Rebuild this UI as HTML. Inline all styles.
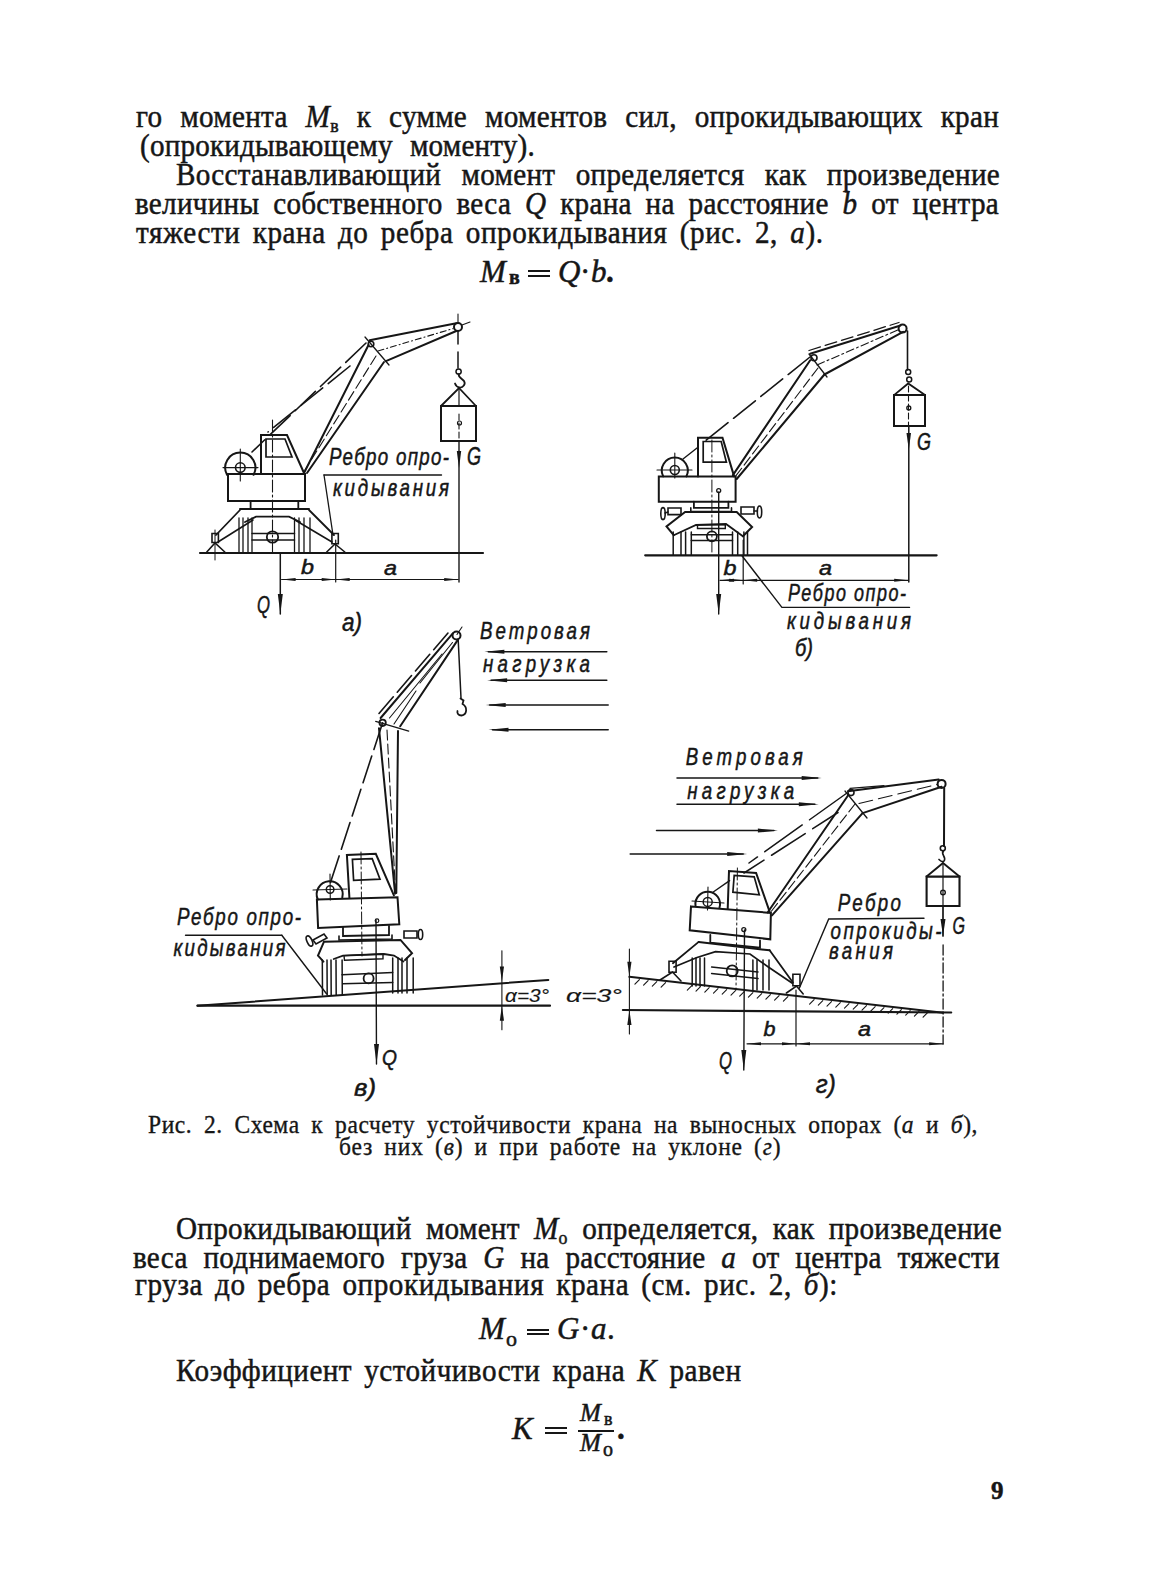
<!DOCTYPE html>
<html><head><meta charset="utf-8">
<style>
html,body{margin:0;padding:0;background:#fff;}
body{width:1163px;height:1588px;position:relative;overflow:hidden;font-family:"Liberation Serif",serif;color:#161616;}
.t{position:absolute;transform:scaleX(0.94);transform-origin:0 0;font-size:31px;line-height:31px;white-space:nowrap;text-align:justify;text-align-last:justify;-webkit-text-stroke:0.5px #161616;}
.n{text-align:left;text-align-last:left;width:auto;}
.f{position:absolute;font-size:31px;line-height:31px;white-space:nowrap;-webkit-text-stroke:0.5px #161616;}
.cap{position:absolute;transform:scaleX(0.94);transform-origin:0 0;font-size:25px;line-height:25px;white-space:nowrap;-webkit-text-stroke:0.35px #161616;}
.sb{font-size:19px;position:relative;top:5px;}
svg{position:absolute;left:0;top:0;}
.bar{position:absolute;height:2px;background:#161616;}
</style></head><body>
<div class="t" style="top:101px;left:136px;width:918.1px;letter-spacing:0.3px">го момента <i>M</i><span class="sb">в</span> к сумме моментов сил, опрокидывающих кран</div>
<div class="t" style="top:130px;left:140px;width:420.2px;letter-spacing:0.2px">(опрокидывающему моменту).</div>
<div class="t" style="top:159px;left:176px;width:876.6px;letter-spacing:0.3px">Восстанавливающий момент определяется как произведение</div>
<div class="t" style="top:188px;left:135px;width:919.1px;letter-spacing:0.3px">величины собственного веса <i>Q</i> крана на расстояние <i>b</i> от центра</div>
<div class="t" style="top:217px;left:136px;width:731.4px;letter-spacing:0.6px">тяжести крана до ребра опрокидывания (рис. 2, <i>а</i>).</div>
<div class="f" style="top:256px;left:480px"><i>M</i></div><div class="f" style="top:262px;left:509px;font-size:20px;font-weight:bold">в</div><div class="bar" style="left:528px;top:270px;width:22px"></div><div class="bar" style="left:528px;top:275px;width:22px"></div><div class="f" style="top:256px;left:558px"><i>Q</i></div><div class="f" style="top:256px;left:580px">·</div><div class="f" style="top:256px;left:591px"><i>b</i></div><div class="f" style="top:256px;left:606px;font-weight:bold">.</div>

<div class="cap" style="top:1112px;left:147.5px;width:883.0px;text-align:justify;text-align-last:justify;letter-spacing:0.6px">Рис. 2. Схема к расчету устойчивости крана на выносных опорах (<i>а</i> и <i>б</i>),</div>
<div class="cap" style="top:1134px;left:339px;width:470.7px;text-align:justify;text-align-last:justify;letter-spacing:0.9px">без них (<i>в</i>) и при работе на уклоне (<i>г</i>)</div>

<div class="t" style="top:1213px;left:176px;width:878.7px;letter-spacing:0.3px">Опрокидывающий момент <i>M</i><span class="sb">о</span> определяется, как произведение</div>
<div class="t" style="top:1242px;left:133px;width:922.3px;letter-spacing:0.3px">веса поднимаемого груза <i>G</i> на расстояние <i>а</i> от центра тяжести</div>
<div class="t" style="top:1269px;left:135px;width:747.9px;letter-spacing:0.6px">груза до ребра опрокидывания крана (см. рис. 2, <i>б</i>):</div>
<div class="f" style="top:1313px;left:479px"><i>M</i></div><div class="f" style="top:1323px;left:506px;font-size:22px">о</div><div class="bar" style="left:527px;top:1329px;width:22px"></div><div class="bar" style="left:527px;top:1333px;width:22px"></div><div class="f" style="top:1313px;left:557px"><i>G</i></div><div class="f" style="top:1313px;left:580px">·</div><div class="f" style="top:1313px;left:591px"><i>a</i></div><div class="f" style="top:1313px;left:607px">.</div>
<div class="t" style="top:1355px;left:175.5px;width:601.6px;letter-spacing:0.5px">Коэффициент устойчивости крана <i>K</i> равен</div>
<div class="f" style="top:1413px;left:512px"><i>K</i></div><div class="bar" style="left:545px;top:1427px;width:22px"></div><div class="bar" style="left:545px;top:1432px;width:22px"></div><div class="f" style="top:1400px;left:580px;font-size:25px;line-height:25px"><i>M</i></div><div class="f" style="top:1410px;left:604px;font-size:18px;line-height:18px">в</div><div class="bar" style="left:578px;top:1429.5px;width:36px"></div><div class="f" style="top:1430px;left:580px;font-size:25px;line-height:25px"><i>M</i></div><div class="f" style="top:1439px;left:603px;font-size:20px;line-height:20px">о</div><div class="f" style="top:1413px;left:617px;font-weight:bold">.</div>
<div class="f" style="top:1478px;left:991px;font-weight:bold;font-size:25px;line-height:25px">9</div>
<svg width="1163" height="1588" viewBox="0 0 1163 1588"><g stroke="#161616" stroke-linecap="round" fill="none"><line x1="369.6" y1="340.2" x2="456.3" y2="323.2" stroke-width="2"/>
<line x1="385.9" y1="361.1" x2="456.3" y2="331.0" stroke-width="2"/>
<line x1="378.0" y1="351.0" x2="453.0" y2="328.6" stroke-width="1.1" stroke-dasharray="6 3 1 3"/>
<line x1="365.0" y1="337.0" x2="389.0" y2="365.0" stroke-width="1.3"/>
<circle cx="458.0" cy="327.0" r="4.0" stroke-width="2" fill="none"/>
<line x1="458.0" y1="314.0" x2="458.0" y2="323.0" stroke-width="1.1"/>
<line x1="462.0" y1="325.0" x2="470.0" y2="322.0" stroke-width="1.1"/>
<circle cx="371.0" cy="344.0" r="2.8" stroke-width="1.6" fill="none"/>
<line x1="368.5" y1="345.0" x2="304.0" y2="473.0" stroke-width="2"/>
<line x1="384.0" y1="362.0" x2="307.0" y2="473.0" stroke-width="2"/>
<line x1="376.0" y1="356.0" x2="305.0" y2="470.0" stroke-width="1.1" stroke-dasharray="10 4"/>
<line x1="366.0" y1="343.0" x2="252.0" y2="452.0" stroke-width="1.6" stroke-dasharray="28 7"/>
<line x1="350.0" y1="366.0" x2="268.0" y2="432.0" stroke-width="1.6" stroke-dasharray="28 7"/>
<line x1="458.0" y1="331.0" x2="458.0" y2="344.0" stroke-width="1.5"/>
<line x1="458.0" y1="352.0" x2="458.0" y2="368.0" stroke-width="1.5"/>
<circle cx="458.6" cy="371.5" r="2.6" stroke-width="1.5" fill="none"/>
<path d="M458.8,374.2 C458,377 461,378 464,381 C466,384 463,388 459.5,387.5 C457,387 455.5,385 455,383.5" stroke-width="1.8" fill="none"/>
<polyline points="441.0,406.0 459.0,388.0 476.0,406.0" stroke-width="1.8" fill="none"/>
<polygon points="441.0,406.0 476.0,406.0 476.0,441.0 441.0,441.0" stroke-width="2" fill="none"/>
<circle cx="459.5" cy="423.0" r="2.0" stroke-width="1.2" fill="none"/>
<line x1="459.0" y1="388.0" x2="459.0" y2="406.0" stroke-width="1.2"/>
<line x1="459.0" y1="414.0" x2="459.0" y2="441.0" stroke-width="1.1" stroke-dasharray="6 3"/>
<line x1="459.0" y1="441.0" x2="459.0" y2="582.0" stroke-width="1.4"/>
<polygon points="459.0,468.0 456.8,451.0 461.2,451.0" fill="#161616" stroke="none"/>
<text x="467.0" y="464.5" font-family="Liberation Sans" font-size="25" font-style="italic" fill="#161616" stroke="#161616" stroke-width="0.5" textLength="14" lengthAdjust="spacingAndGlyphs" text-anchor="start" >G</text>
<polyline points="261.0,473.0 261.0,435.0 287.0,435.0 304.0,473.0" stroke-width="2" fill="none"/>
<polygon points="266.0,457.0 266.0,439.0 285.0,439.0 292.0,457.0" stroke-width="1.7" fill="none"/>
<line x1="272.5" y1="420.0" x2="272.5" y2="553.0" stroke-width="1.1" stroke-dasharray="12 3 2 3"/>
<path d="M227,474.8 A15.1,15.1 0 1 1 253.6,474.8" stroke-width="2" fill="none"/>
<circle cx="240.3" cy="467.6" r="4.8" stroke-width="1.6" fill="none"/>
<line x1="223.0" y1="467.6" x2="258.0" y2="467.6" stroke-width="1.1"/>
<line x1="240.3" y1="449.0" x2="240.3" y2="481.0" stroke-width="1.1"/>
<polygon points="228.0,474.0 305.0,474.0 305.0,501.0 228.0,501.0" stroke-width="2" fill="none"/>
<polyline points="250.6,501.0 250.6,509.0 298.3,509.0 298.3,501.0" stroke-width="1.8" fill="none"/>
<line x1="240.0" y1="509.0" x2="309.0" y2="509.0" stroke-width="2"/>
<line x1="240.0" y1="510.0" x2="216.0" y2="535.0" stroke-width="1.8"/>
<line x1="253.0" y1="520.0" x2="218.0" y2="542.0" stroke-width="1.6"/>
<line x1="309.0" y1="510.0" x2="334.0" y2="535.0" stroke-width="1.8"/>
<line x1="295.0" y1="520.0" x2="332.0" y2="542.0" stroke-width="1.6"/>
<polyline points="245.0,522.0 256.0,516.7 289.0,516.7 300.0,522.0" stroke-width="1.8" fill="none"/>
<line x1="239.0" y1="518.0" x2="239.0" y2="553.0" stroke-width="1.3"/>
<line x1="243.0" y1="518.0" x2="243.0" y2="553.0" stroke-width="1.3"/>
<line x1="248.0" y1="518.0" x2="248.0" y2="553.0" stroke-width="1.3"/>
<line x1="252.0" y1="518.0" x2="252.0" y2="553.0" stroke-width="1.3"/>
<line x1="294.5" y1="518.0" x2="294.5" y2="553.0" stroke-width="1.3"/>
<line x1="299.0" y1="518.0" x2="299.0" y2="553.0" stroke-width="1.3"/>
<line x1="304.0" y1="518.0" x2="304.0" y2="553.0" stroke-width="1.3"/>
<line x1="310.0" y1="518.0" x2="310.0" y2="553.0" stroke-width="1.3"/>
<line x1="252.0" y1="533.5" x2="294.5" y2="533.5" stroke-width="1.5"/>
<line x1="252.0" y1="540.0" x2="294.5" y2="540.0" stroke-width="1.5"/>
<circle cx="272.5" cy="537.0" r="5.7" stroke-width="1.8" fill="none"/>
<polygon points="212.0,542.5 212.0,533.5 218.4,533.5 218.4,542.5" stroke-width="1.6" fill="none"/>
<polyline points="206.8,552.0 215.0,543.0 224.8,552.0" stroke-width="1.6" fill="none"/>
<polygon points="331.9,543.8 331.9,533.5 338.3,533.5 338.3,543.8" stroke-width="1.6" fill="none"/>
<polyline points="326.7,552.0 335.0,544.0 344.8,552.0" stroke-width="1.6" fill="none"/>
<line x1="215.0" y1="530.0" x2="215.0" y2="560.0" stroke-width="1.0"/>
<line x1="200.0" y1="553.0" x2="483.0" y2="553.0" stroke-width="2.2"/>
<line x1="280.3" y1="554.0" x2="280.3" y2="614.0" stroke-width="1.5"/>
<polygon points="280.3,614.0 277.8,594.0 282.8,594.0" fill="#161616" stroke="none"/>
<text x="257.0" y="612.5" font-family="Liberation Sans" font-size="24" font-style="italic" fill="#161616" stroke="#161616" stroke-width="0.5" textLength="13" lengthAdjust="spacingAndGlyphs" text-anchor="start" >Q</text>
<line x1="281.6" y1="579.5" x2="458.2" y2="579.5" stroke-width="1.2"/>
<polygon points="281.6,579.5 295.6,578.0 295.6,581.0" fill="#161616" stroke="none"/>
<polygon points="335.7,579.5 321.7,581.0 321.7,578.0" fill="#161616" stroke="none"/>
<polygon points="335.7,579.5 349.7,578.0 349.7,581.0" fill="#161616" stroke="none"/>
<polygon points="458.2,579.5 444.2,581.0 444.2,578.0" fill="#161616" stroke="none"/>
<line x1="335.7" y1="540.0" x2="335.7" y2="582.0" stroke-width="1.2"/>
<text x="301.0" y="573.5" font-family="Liberation Sans" font-size="21" font-style="italic" fill="#161616" stroke="#161616" stroke-width="0.5" textLength="13" lengthAdjust="spacingAndGlyphs" text-anchor="start" >b</text>
<text x="384.0" y="574.8" font-family="Liberation Sans" font-size="21" font-style="italic" fill="#161616" stroke="#161616" stroke-width="0.5" textLength="13" lengthAdjust="spacingAndGlyphs" text-anchor="start" >a</text>
<text x="342.0" y="631.0" font-family="Liberation Sans" font-size="25" font-style="italic" fill="#161616" stroke="#161616" stroke-width="0.5" textLength="20" lengthAdjust="spacingAndGlyphs" text-anchor="start" >а)</text>
<g transform="translate(329.0,465.0) scale(0.78,1)"><text x="0" y="0" font-family="Liberation Sans" font-size="24" font-style="italic" fill="#161616" stroke="#161616" stroke-width="0.5" textLength="153.8" lengthAdjust="spacing" text-anchor="start" >Ребро опро-</text></g>
<g transform="translate(333.0,496.0) scale(0.78,1)"><text x="0" y="0" font-family="Liberation Sans" font-size="24" font-style="italic" fill="#161616" stroke="#161616" stroke-width="0.5" textLength="148.7" lengthAdjust="spacing" text-anchor="start" >кидывания</text></g>
<line x1="324.0" y1="475.0" x2="441.5" y2="475.0" stroke-width="1.4"/>
<line x1="324.0" y1="475.0" x2="333.0" y2="535.0" stroke-width="1.3"/>
<line x1="810.2" y1="353.8" x2="900.5" y2="325.5" stroke-width="2"/>
<line x1="809.0" y1="350.5" x2="899.0" y2="322.5" stroke-width="1.3" stroke-dasharray="12 5"/>
<line x1="824.4" y1="374.5" x2="903.1" y2="331.9" stroke-width="2"/>
<line x1="817.0" y1="365.0" x2="900.0" y2="329.0" stroke-width="1.1" stroke-dasharray="8 3 2 3"/>
<line x1="809.0" y1="354.0" x2="827.0" y2="377.0" stroke-width="1.3"/>
<circle cx="902.6" cy="328.6" r="4.0" stroke-width="2" fill="none"/>
<circle cx="814.0" cy="357.7" r="3.0" stroke-width="1.6" fill="none"/>
<line x1="810.2" y1="360.3" x2="732.9" y2="475.1" stroke-width="2"/>
<line x1="824.4" y1="374.5" x2="736.7" y2="479.0" stroke-width="2"/>
<line x1="818.0" y1="368.0" x2="735.0" y2="477.0" stroke-width="1.1" stroke-dasharray="10 4"/>
<line x1="810.0" y1="357.0" x2="704.5" y2="441.5" stroke-width="1.6" stroke-dasharray="28 7"/>
<line x1="697.0" y1="448.0" x2="683.0" y2="459.0" stroke-width="1.4"/>
<polyline points="698.0,476.4 698.0,437.7 722.5,437.7 734.1,476.4" stroke-width="2" fill="none"/>
<polygon points="703.2,462.2 703.2,441.5 721.2,441.5 726.4,462.2" stroke-width="1.7" fill="none"/>
<path d="M663.2,476.4 A13,13 0 1 1 686.4,476.4" stroke-width="2" fill="none"/>
<circle cx="674.8" cy="470.0" r="4.5" stroke-width="1.6" fill="none"/>
<line x1="657.0" y1="470.0" x2="692.0" y2="470.0" stroke-width="1.1"/>
<line x1="674.8" y1="453.0" x2="674.8" y2="478.0" stroke-width="1.1"/>
<polygon points="658.8,476.4 735.6,476.4 735.6,501.7 658.8,501.7" stroke-width="2" fill="none"/>
<circle cx="718.7" cy="490.6" r="2.0" stroke-width="1.3" fill="none"/>
<line x1="711.9" y1="440.0" x2="711.9" y2="555.0" stroke-width="1.0" stroke-dasharray="12 3 2 3"/>
<polyline points="693.9,501.7 693.9,507.9 728.4,507.9 728.4,501.7" stroke-width="1.8" fill="none"/>
<polyline points="690.8,507.9 690.8,511.5 731.5,511.5 731.5,507.9" stroke-width="1.6" fill="none"/>
<polyline points="673.7,535.2 666.5,526.5 685.1,512.0 736.7,512.0 752.1,527.0 742.9,536.3" stroke-width="2" fill="none"/>
<polyline points="673.7,535.2 696.0,525.0 726.0,524.0 742.9,536.3" stroke-width="1.8" fill="none"/>
<polygon points="697.5,524.9 725.3,524.9 725.3,528.5 697.5,528.5" stroke-width="1.4" fill="none"/>
<line x1="673.2" y1="532.0" x2="673.2" y2="555.0" stroke-width="1.5"/>
<line x1="681.0" y1="532.0" x2="681.0" y2="555.0" stroke-width="1.5"/>
<line x1="685.6" y1="532.0" x2="685.6" y2="555.0" stroke-width="1.5"/>
<line x1="691.3" y1="532.0" x2="691.3" y2="555.0" stroke-width="1.5"/>
<line x1="732.5" y1="532.0" x2="732.5" y2="555.0" stroke-width="1.5"/>
<line x1="737.7" y1="532.0" x2="737.7" y2="555.0" stroke-width="1.5"/>
<line x1="743.9" y1="532.0" x2="743.9" y2="555.0" stroke-width="1.5"/>
<line x1="747.5" y1="532.0" x2="747.5" y2="555.0" stroke-width="1.5"/>
<line x1="691.3" y1="534.7" x2="732.5" y2="534.7" stroke-width="1.5"/>
<line x1="691.3" y1="540.4" x2="732.5" y2="540.4" stroke-width="1.5"/>
<circle cx="711.9" cy="536.3" r="5.0" stroke-width="1.8" fill="none"/>
<polygon points="668.0,508.0 681.0,508.0 681.0,514.6 668.0,514.6" stroke-width="1.6" fill="none"/>
<ellipse cx="663" cy="513.6" rx="2.2" ry="6" stroke-width="1.6" fill="none"/>
<line x1="665.0" y1="513.0" x2="668.0" y2="512.0" stroke-width="1.4"/>
<polygon points="741.0,507.0 754.0,507.0 754.0,514.0 741.0,514.0" stroke-width="1.6" fill="none"/>
<ellipse cx="759.5" cy="512" rx="2.2" ry="6" stroke-width="1.6" fill="none"/>
<line x1="754.0" y1="511.0" x2="757.5" y2="511.0" stroke-width="1.4"/>
<line x1="645.2" y1="555.3" x2="936.6" y2="555.3" stroke-width="2.2"/>
<line x1="718.7" y1="492.0" x2="718.7" y2="614.0" stroke-width="1.4"/>
<polygon points="718.7,614.0 716.2,594.0 721.2,594.0" fill="#161616" stroke="none"/>
<line x1="907.5" y1="331.0" x2="907.5" y2="370.0" stroke-width="1.6"/>
<circle cx="908.2" cy="371.9" r="2.5" stroke-width="1.5" fill="none"/>
<circle cx="909.2" cy="379.4" r="2.5" stroke-width="1.5" fill="none"/>
<polyline points="894.0,395.1 908.2,383.5 925.0,395.1" stroke-width="1.8" fill="none"/>
<polygon points="894.0,395.1 925.0,395.1 925.0,426.1 894.0,426.1" stroke-width="2" fill="none"/>
<circle cx="908.8" cy="408.0" r="2.0" stroke-width="1.3" fill="none"/>
<line x1="908.5" y1="386.0" x2="908.5" y2="426.0" stroke-width="1.1" stroke-dasharray="6 3"/>
<line x1="908.8" y1="426.0" x2="908.8" y2="582.0" stroke-width="1.5"/>
<polygon points="908.8,450.0 906.5,433.0 911.0,433.0" fill="#161616" stroke="none"/>
<text x="917.0" y="449.5" font-family="Liberation Sans" font-size="24" font-style="italic" fill="#161616" stroke="#161616" stroke-width="0.5" textLength="14" lengthAdjust="spacingAndGlyphs" text-anchor="start" >G</text>
<line x1="720.0" y1="580.3" x2="908.2" y2="580.3" stroke-width="1.2"/>
<polygon points="720.0,580.3 734.0,578.8 734.0,581.8" fill="#161616" stroke="none"/>
<polygon points="743.2,580.3 729.2,581.8 729.2,578.8" fill="#161616" stroke="none"/>
<polygon points="743.2,580.3 757.2,578.8 757.2,581.8" fill="#161616" stroke="none"/>
<polygon points="908.2,580.3 894.2,581.8 894.2,578.8" fill="#161616" stroke="none"/>
<line x1="743.2" y1="540.0" x2="743.2" y2="584.0" stroke-width="1.2"/>
<text x="723.5" y="575.0" font-family="Liberation Sans" font-size="21" font-style="italic" fill="#161616" stroke="#161616" stroke-width="0.5" textLength="13" lengthAdjust="spacingAndGlyphs" text-anchor="start" >b</text>
<text x="819.0" y="575.0" font-family="Liberation Sans" font-size="21" font-style="italic" fill="#161616" stroke="#161616" stroke-width="0.5" textLength="13" lengthAdjust="spacingAndGlyphs" text-anchor="start" >a</text>
<polyline points="742.0,555.8 781.9,607.4 909.5,607.4" stroke-width="1.4" fill="none"/>
<g transform="translate(788.0,601.0) scale(0.78,1)"><text x="0" y="0" font-family="Liberation Sans" font-size="23" font-style="italic" fill="#161616" stroke="#161616" stroke-width="0.5" textLength="151.3" lengthAdjust="spacing" text-anchor="start" >Ребро опро-</text></g>
<g transform="translate(787.0,629.3) scale(0.78,1)"><text x="0" y="0" font-family="Liberation Sans" font-size="24" font-style="italic" fill="#161616" stroke="#161616" stroke-width="0.5" textLength="159.0" lengthAdjust="spacing" text-anchor="start" >кидывания</text></g>
<text x="795.0" y="655.5" font-family="Liberation Sans" font-size="24" font-style="italic" fill="#161616" stroke="#161616" stroke-width="0.5" textLength="18" lengthAdjust="spacingAndGlyphs" text-anchor="start" >б)</text>
<line x1="380.6" y1="718.0" x2="452.8" y2="633.4" stroke-width="2"/>
<line x1="400.2" y1="726.3" x2="458.0" y2="639.6" stroke-width="2"/>
<line x1="389.5" y1="718.0" x2="442.0" y2="654.0" stroke-width="1.1"/>
<line x1="394.0" y1="724.0" x2="416.0" y2="691.0" stroke-width="1.1"/>
<line x1="420.0" y1="683.0" x2="452.5" y2="642.5" stroke-width="1.1"/>
<line x1="375.7" y1="721.4" x2="408.7" y2="731.1" stroke-width="1.3"/>
<circle cx="456.5" cy="635.5" r="4.0" stroke-width="2" fill="none"/>
<circle cx="382.6" cy="722.8" r="3.2" stroke-width="1.8" fill="none"/>
<line x1="457.0" y1="634.5" x2="462.0" y2="627.0" stroke-width="1.1"/>
<line x1="379.0" y1="713.5" x2="451.0" y2="629.5" stroke-width="1.6" stroke-dasharray="22 6"/>
<line x1="379.0" y1="728.3" x2="395.1" y2="893.6" stroke-width="2"/>
<line x1="398.0" y1="731.1" x2="396.3" y2="893.0" stroke-width="2"/>
<line x1="387.0" y1="730.0" x2="395.5" y2="892.0" stroke-width="1.1" stroke-dasharray="10 4"/>
<line x1="382.6" y1="722.8" x2="329.0" y2="887.0" stroke-width="1.6" stroke-dasharray="28 7"/>
<line x1="458.2" y1="640.0" x2="461.0" y2="698.0" stroke-width="1.5"/>
<path d="M460.5,698.5 L463.5,700.5 L462.5,704 M462.5,704 C468,707 467,715 461.5,715.5 C458,715.5 457,713 457.5,711" stroke-width="1.8" fill="none"/>
<line x1="488.4" y1="651.8" x2="606.8" y2="651.8" stroke-width="1.5"/>
<polygon points="484.4,651.8 504.4,649.8 504.4,653.8" fill="#161616" stroke="none"/>
<line x1="491.1" y1="680.2" x2="606.8" y2="680.2" stroke-width="1.5"/>
<polygon points="487.1,680.2 507.1,678.2 507.1,682.2" fill="#161616" stroke="none"/>
<line x1="489.7" y1="704.9" x2="608.2" y2="704.9" stroke-width="1.5"/>
<polygon points="485.7,704.9 505.7,702.9 505.7,706.9" fill="#161616" stroke="none"/>
<line x1="492.5" y1="729.7" x2="608.2" y2="729.7" stroke-width="1.5"/>
<polygon points="488.5,729.7 508.5,727.7 508.5,731.7" fill="#161616" stroke="none"/>
<g transform="translate(480.0,638.9) scale(0.78,1)"><text x="0" y="0" font-family="Liberation Sans" font-size="24" font-style="italic" fill="#161616" stroke="#161616" stroke-width="0.5" textLength="141.0" lengthAdjust="spacing" text-anchor="start" >Ветровая</text></g>
<g transform="translate(483.0,672.0) scale(0.78,1)"><text x="0" y="0" font-family="Liberation Sans" font-size="24" font-style="italic" fill="#161616" stroke="#161616" stroke-width="0.5" textLength="137.2" lengthAdjust="spacing" text-anchor="start" >нагрузка</text></g>
<polyline points="349.4,897.8 346.9,855.0 375.8,853.8 393.9,895.4" stroke-width="2" fill="none"/>
<polygon points="353.6,880.3 352.4,859.3 372.2,858.7 380.0,879.1" stroke-width="1.7" fill="none"/>
<line x1="361.0" y1="852.0" x2="362.0" y2="956.0" stroke-width="1.0" stroke-dasharray="12 3 2 3"/>
<path d="M317.8,899.5 A13,13 0 1 1 342.3,897.5" stroke-width="2" fill="none"/>
<circle cx="330.1" cy="889.5" r="3.8" stroke-width="1.5" fill="none"/>
<line x1="313.0" y1="890.0" x2="347.0" y2="889.0" stroke-width="1.1"/>
<line x1="330.0" y1="874.0" x2="330.3" y2="900.0" stroke-width="1.1"/>
<polygon points="316.9,899.6 397.5,897.2 399.3,924.3 318.1,927.9" stroke-width="2" fill="none"/>
<circle cx="377.0" cy="920.7" r="1.8" stroke-width="1.2" fill="none"/>
<polyline points="343.0,927.0 343.0,936.0 389.0,935.0 389.0,926.0" stroke-width="1.8" fill="none"/>
<polyline points="339.0,936.0 339.0,940.0 392.0,939.0 392.0,935.0" stroke-width="1.6" fill="none"/>
<polyline points="323.5,961.6 318.0,955.6 324.0,941.7 400.5,939.9 412.0,953.2 405.0,960.0" stroke-width="2" fill="none"/>
<polyline points="333.7,959.0 343.0,955.6 384.0,954.0 394.0,955.6 403.5,961.6" stroke-width="1.8" fill="none"/>
<polygon points="344.0,955.6 383.0,954.0 383.0,958.8 344.5,960.2" stroke-width="1.4" fill="none"/>
<line x1="322.3" y1="960.0" x2="322.5" y2="995.0" stroke-width="1.5"/>
<line x1="327.0" y1="960.0" x2="327.2" y2="995.0" stroke-width="1.5"/>
<line x1="331.0" y1="960.0" x2="331.2" y2="995.0" stroke-width="1.5"/>
<line x1="336.0" y1="960.0" x2="336.2" y2="995.0" stroke-width="1.5"/>
<line x1="342.1" y1="960.0" x2="342.3" y2="995.0" stroke-width="1.5"/>
<line x1="392.7" y1="958.0" x2="392.7" y2="993.0" stroke-width="1.5"/>
<line x1="398.0" y1="958.0" x2="398.0" y2="993.0" stroke-width="1.5"/>
<line x1="402.0" y1="958.0" x2="402.0" y2="993.0" stroke-width="1.5"/>
<line x1="407.0" y1="958.0" x2="407.0" y2="993.0" stroke-width="1.5"/>
<line x1="413.2" y1="958.0" x2="413.2" y2="993.0" stroke-width="1.5"/>
<line x1="342.0" y1="974.8" x2="392.7" y2="972.4" stroke-width="1.5"/>
<line x1="342.6" y1="983.8" x2="392.7" y2="982.6" stroke-width="1.5"/>
<circle cx="368.6" cy="978.4" r="5.0" stroke-width="1.8" fill="none"/>
<polygon points="313.0,940.0 324.0,934.0 327.0,938.0 316.0,944.0" stroke-width="1.6" fill="none"/>
<ellipse cx="309.5" cy="941" rx="2.5" ry="5.5" transform="rotate(-25 309.5 941)" stroke-width="1.6" fill="none"/>
<polygon points="404.0,931.0 417.0,931.0 417.0,938.0 404.0,938.0" stroke-width="1.6" fill="none"/>
<ellipse cx="420.5" cy="934.5" rx="2.2" ry="5" stroke-width="1.6" fill="none"/>
<line x1="197.5" y1="1005.7" x2="548.3" y2="979.9" stroke-width="2"/>
<line x1="197.5" y1="1005.7" x2="550.0" y2="1005.7" stroke-width="2.2"/>
<line x1="376.0" y1="920.0" x2="376.5" y2="1064.0" stroke-width="1.4"/>
<polygon points="376.5,1064.0 374.0,1044.0 379.0,1044.0" fill="#161616" stroke="none"/>
<text x="382.0" y="1064.5" font-family="Liberation Sans" font-size="22" font-style="italic" fill="#161616" stroke="#161616" stroke-width="0.5" textLength="15" lengthAdjust="spacingAndGlyphs" text-anchor="start" >Q</text>
<text x="354.0" y="1095.5" font-family="Liberation Sans" font-size="24" font-style="italic" fill="#161616" stroke="#161616" stroke-width="0.5" textLength="22" lengthAdjust="spacingAndGlyphs" text-anchor="start" >в)</text>
<line x1="501.9" y1="950.7" x2="501.9" y2="1029.8" stroke-width="1.1"/>
<polygon points="501.9,981.5 499.8,966.5 504.0,966.5" fill="#161616" stroke="none"/>
<polygon points="501.9,1005.7 504.0,1020.7 499.8,1020.7" fill="#161616" stroke="none"/>
<text x="505.0" y="1002.3" font-family="Liberation Sans" font-size="19" font-style="italic" fill="#161616" stroke="#161616" stroke-width="0.15" textLength="44" lengthAdjust="spacingAndGlyphs" text-anchor="start" >α=3°</text>
<text x="566.0" y="1002.3" font-family="Liberation Sans" font-size="19" font-style="italic" fill="#161616" stroke="#161616" stroke-width="0.15" textLength="56" lengthAdjust="spacingAndGlyphs" text-anchor="start" >α=3°</text>
<g transform="translate(177.0,924.9) scale(0.78,1)"><text x="0" y="0" font-family="Liberation Sans" font-size="24" font-style="italic" fill="#161616" stroke="#161616" stroke-width="0.5" textLength="159.0" lengthAdjust="spacing" text-anchor="start" >Ребро опро-</text></g>
<g transform="translate(173.4,955.9) scale(0.78,1)"><text x="0" y="0" font-family="Liberation Sans" font-size="24" font-style="italic" fill="#161616" stroke="#161616" stroke-width="0.5" textLength="143.6" lengthAdjust="spacing" text-anchor="start" >кидывания</text></g>
<line x1="185.5" y1="935.2" x2="281.8" y2="935.2" stroke-width="1.4"/>
<line x1="281.8" y1="935.2" x2="326.5" y2="993.7" stroke-width="1.4"/>
<line x1="677.0" y1="778.0" x2="817.7" y2="778.0" stroke-width="1.5"/>
<polygon points="821.7,778.0 801.7,780.0 801.7,776.0" fill="#161616" stroke="none"/>
<line x1="677.0" y1="804.3" x2="814.8" y2="804.3" stroke-width="1.5"/>
<polygon points="818.8,804.3 798.8,806.3 798.8,802.3" fill="#161616" stroke="none"/>
<line x1="656.5" y1="830.6" x2="773.9" y2="830.6" stroke-width="1.5"/>
<polygon points="777.9,830.6 757.9,832.6 757.9,828.6" fill="#161616" stroke="none"/>
<line x1="630.2" y1="854.0" x2="743.2" y2="854.0" stroke-width="1.5"/>
<polygon points="747.2,854.0 727.2,856.0 727.2,852.0" fill="#161616" stroke="none"/>
<g transform="translate(685.8,764.8) scale(0.78,1)"><text x="0" y="0" font-family="Liberation Sans" font-size="24" font-style="italic" fill="#161616" stroke="#161616" stroke-width="0.5" textLength="150.0" lengthAdjust="spacing" text-anchor="start" >Ветровая</text></g>
<g transform="translate(687.2,798.5) scale(0.78,1)"><text x="0" y="0" font-family="Liberation Sans" font-size="24" font-style="italic" fill="#161616" stroke="#161616" stroke-width="0.5" textLength="137.2" lengthAdjust="spacing" text-anchor="start" >нагрузка</text></g>
<line x1="848.0" y1="791.2" x2="938.7" y2="779.5" stroke-width="2"/>
<line x1="862.6" y1="813.1" x2="941.6" y2="786.8" stroke-width="2"/>
<line x1="859.0" y1="803.5" x2="937.0" y2="784.5" stroke-width="1.1" stroke-dasharray="14 6"/>
<line x1="845.0" y1="791.0" x2="867.0" y2="818.0" stroke-width="1.3"/>
<circle cx="941.6" cy="783.9" r="4.0" stroke-width="2" fill="none"/>
<circle cx="851.0" cy="792.6" r="3.0" stroke-width="1.6" fill="none"/>
<line x1="850.0" y1="788.4" x2="884.0" y2="785.6" stroke-width="1.2"/>
<line x1="848.0" y1="795.5" x2="767.6" y2="912.5" stroke-width="2"/>
<line x1="862.6" y1="813.1" x2="772.0" y2="915.4" stroke-width="2"/>
<line x1="855.0" y1="804.0" x2="770.0" y2="913.0" stroke-width="1.1" stroke-dasharray="10 4"/>
<line x1="847.0" y1="793.0" x2="749.0" y2="863.0" stroke-width="1.5" stroke-dasharray="46 9"/>
<line x1="838.0" y1="812.5" x2="744.0" y2="873.0" stroke-width="1.5" stroke-dasharray="30 9 40 9"/>
<line x1="712.9" y1="892.2" x2="729.6" y2="880.6" stroke-width="1.4"/>
<polyline points="727.7,909.0 729.0,871.0 756.1,872.9 769.6,911.6" stroke-width="2" fill="none"/>
<polygon points="732.9,892.2 734.2,875.5 754.2,876.8 759.3,894.8" stroke-width="1.7" fill="none"/>
<line x1="737.4" y1="868.0" x2="736.0" y2="990.0" stroke-width="1.0" stroke-dasharray="12 3 2 3"/>
<path d="M695.5,905.5 A12.3,12.3 0 1 1 719.5,907.5" stroke-width="2" fill="none"/>
<circle cx="707.7" cy="901.9" r="4.5" stroke-width="1.5" fill="none"/>
<line x1="692.0" y1="901.0" x2="724.0" y2="903.0" stroke-width="1.1"/>
<line x1="708.0" y1="887.0" x2="707.5" y2="910.0" stroke-width="1.1"/>
<polygon points="691.0,906.4 770.9,912.9 770.3,939.3 689.7,930.3" stroke-width="2" fill="none"/>
<circle cx="743.8" cy="929.6" r="2.0" stroke-width="1.3" fill="none"/>
<polyline points="710.3,934.8 710.3,942.6 760.0,947.7 760.0,940.5" stroke-width="1.8" fill="none"/>
<line x1="698.7" y1="941.9" x2="769.6" y2="950.3" stroke-width="2"/>
<line x1="698.7" y1="941.9" x2="672.9" y2="963.2" stroke-width="1.8"/>
<line x1="769.6" y1="950.3" x2="792.9" y2="982.5" stroke-width="1.8"/>
<polyline points="674.0,967.0 697.0,957.5 715.5,951.6 750.0,954.0 768.3,967.0 792.0,983.0" stroke-width="1.7" fill="none"/>
<line x1="692.2" y1="958.0" x2="692.2" y2="986.0" stroke-width="1.5"/>
<line x1="696.0" y1="958.0" x2="696.0" y2="986.0" stroke-width="1.5"/>
<line x1="700.0" y1="958.0" x2="700.0" y2="986.0" stroke-width="1.5"/>
<line x1="704.5" y1="958.0" x2="704.5" y2="986.0" stroke-width="1.5"/>
<line x1="752.9" y1="960.0" x2="752.9" y2="990.0" stroke-width="1.5"/>
<line x1="757.0" y1="960.0" x2="757.0" y2="990.0" stroke-width="1.5"/>
<line x1="763.0" y1="960.0" x2="763.0" y2="990.0" stroke-width="1.5"/>
<line x1="769.0" y1="960.0" x2="769.0" y2="990.0" stroke-width="1.5"/>
<line x1="711.6" y1="967.0" x2="758.0" y2="972.0" stroke-width="1.5"/>
<line x1="711.6" y1="973.5" x2="758.0" y2="978.6" stroke-width="1.5"/>
<circle cx="732.2" cy="970.9" r="5.5" stroke-width="1.8" fill="none"/>
<polygon points="669.0,972.2 669.0,961.2 676.1,961.2 676.1,972.2" stroke-width="1.6" fill="none"/>
<polyline points="660.0,980.0 672.5,972.0 681.0,981.0" stroke-width="1.6" fill="none"/>
<polygon points="792.9,985.8 792.9,974.2 800.0,974.2 800.0,985.8" stroke-width="1.6" fill="none"/>
<polyline points="786.4,993.0 796.5,986.0 803.2,994.0" stroke-width="1.6" fill="none"/>
<line x1="629.4" y1="976.8" x2="943.1" y2="1012.7" stroke-width="2"/>
<line x1="622.9" y1="1010.0" x2="951.2" y2="1012.5" stroke-width="2.2"/>
<line x1="639.4" y1="979.7" x2="634.9" y2="984.2" stroke-width="1.1"/>
<line x1="648.1" y1="980.7" x2="643.6" y2="985.2" stroke-width="1.1"/>
<line x1="656.8" y1="981.7" x2="652.3" y2="986.2" stroke-width="1.1"/>
<line x1="665.6" y1="982.7" x2="661.1" y2="987.2" stroke-width="1.1"/>
<line x1="691.8" y1="985.7" x2="687.3" y2="990.2" stroke-width="1.1"/>
<line x1="700.5" y1="986.7" x2="696.0" y2="991.2" stroke-width="1.1"/>
<line x1="709.2" y1="987.7" x2="704.8" y2="992.2" stroke-width="1.1"/>
<line x1="718.0" y1="988.7" x2="713.5" y2="993.2" stroke-width="1.1"/>
<line x1="726.7" y1="989.7" x2="722.2" y2="994.2" stroke-width="1.1"/>
<line x1="735.5" y1="990.7" x2="731.0" y2="995.2" stroke-width="1.1"/>
<line x1="744.2" y1="991.7" x2="739.7" y2="996.2" stroke-width="1.1"/>
<line x1="752.9" y1="992.7" x2="748.4" y2="997.2" stroke-width="1.1"/>
<line x1="761.7" y1="993.7" x2="757.2" y2="998.2" stroke-width="1.1"/>
<line x1="770.4" y1="994.7" x2="765.9" y2="999.2" stroke-width="1.1"/>
<line x1="779.1" y1="995.7" x2="774.6" y2="1000.2" stroke-width="1.1"/>
<line x1="787.9" y1="996.7" x2="783.4" y2="1001.2" stroke-width="1.1"/>
<line x1="814.1" y1="999.7" x2="809.6" y2="1004.2" stroke-width="1.1"/>
<line x1="822.8" y1="1000.7" x2="818.3" y2="1005.2" stroke-width="1.1"/>
<line x1="831.5" y1="1001.7" x2="827.0" y2="1006.2" stroke-width="1.1"/>
<line x1="840.3" y1="1002.7" x2="835.8" y2="1007.2" stroke-width="1.1"/>
<line x1="849.0" y1="1003.7" x2="844.5" y2="1008.2" stroke-width="1.1"/>
<line x1="857.8" y1="1004.7" x2="853.2" y2="1009.2" stroke-width="1.1"/>
<line x1="866.5" y1="1005.7" x2="862.0" y2="1010.2" stroke-width="1.1"/>
<line x1="875.2" y1="1006.7" x2="870.7" y2="1011.2" stroke-width="1.1"/>
<line x1="884.0" y1="1007.7" x2="879.5" y2="1012.2" stroke-width="1.1"/>
<line x1="892.7" y1="1008.7" x2="888.2" y2="1013.2" stroke-width="1.1"/>
<line x1="901.4" y1="1009.7" x2="896.9" y2="1014.2" stroke-width="1.1"/>
<line x1="910.2" y1="1010.7" x2="905.7" y2="1015.2" stroke-width="1.1"/>
<line x1="918.9" y1="1011.7" x2="914.4" y2="1016.2" stroke-width="1.1"/>
<line x1="927.6" y1="1012.7" x2="923.1" y2="1017.2" stroke-width="1.1"/>
<line x1="629.4" y1="949.0" x2="629.4" y2="1034.0" stroke-width="1.1"/>
<polygon points="629.4,976.8 627.3,961.8 631.5,961.8" fill="#161616" stroke="none"/>
<polygon points="629.4,1010.0 631.5,1025.0 627.3,1025.0" fill="#161616" stroke="none"/>
<line x1="744.5" y1="930.0" x2="743.8" y2="1070.0" stroke-width="1.4"/>
<polygon points="743.8,1070.0 741.3,1050.0 746.3,1050.0" fill="#161616" stroke="none"/>
<text x="719.0" y="1068.5" font-family="Liberation Sans" font-size="23" font-style="italic" fill="#161616" stroke="#161616" stroke-width="0.5" textLength="13" lengthAdjust="spacingAndGlyphs" text-anchor="start" >Q</text>
<line x1="747.0" y1="1043.8" x2="943.1" y2="1043.8" stroke-width="1.2"/>
<polygon points="747.0,1043.8 761.0,1042.3 761.0,1045.3" fill="#161616" stroke="none"/>
<polygon points="796.0,1043.8 782.0,1045.3 782.0,1042.3" fill="#161616" stroke="none"/>
<polygon points="796.0,1043.8 810.0,1042.3 810.0,1045.3" fill="#161616" stroke="none"/>
<polygon points="943.1,1043.8 929.1,1045.3 929.1,1042.3" fill="#161616" stroke="none"/>
<line x1="796.0" y1="990.0" x2="796.0" y2="1046.0" stroke-width="1.2"/>
<text x="763.4" y="1035.6" font-family="Liberation Sans" font-size="21" font-style="italic" fill="#161616" stroke="#161616" stroke-width="0.5" textLength="12" lengthAdjust="spacingAndGlyphs" text-anchor="start" >b</text>
<text x="858.0" y="1035.6" font-family="Liberation Sans" font-size="21" font-style="italic" fill="#161616" stroke="#161616" stroke-width="0.5" textLength="13" lengthAdjust="spacingAndGlyphs" text-anchor="start" >a</text>
<text x="815.7" y="1093.0" font-family="Liberation Sans" font-size="25" font-style="italic" fill="#161616" stroke="#161616" stroke-width="0.5" textLength="20" lengthAdjust="spacingAndGlyphs" text-anchor="start" >г)</text>
<line x1="944.2" y1="788.0" x2="944.0" y2="846.0" stroke-width="2"/>
<circle cx="942.8" cy="848.3" r="2.5" stroke-width="1.6" fill="none"/>
<path d="M943.5,851 C940,854 947,857 944,861 C942.5,862.5 940.5,861 939,859.5" stroke-width="1.7" fill="none"/>
<polyline points="926.6,876.6 943.0,863.0 959.5,876.6" stroke-width="1.9" fill="none"/>
<polygon points="926.6,876.6 959.5,876.6 959.5,906.0 926.6,906.0" stroke-width="2.1" fill="none"/>
<circle cx="943.0" cy="892.4" r="2.3" stroke-width="1.4" fill="none"/>
<line x1="943.0" y1="863.0" x2="943.0" y2="906.0" stroke-width="1.2"/>
<line x1="943.0" y1="906.0" x2="943.0" y2="936.0" stroke-width="1.7"/>
<line x1="943.1" y1="945.0" x2="943.1" y2="1044.0" stroke-width="1.3" stroke-dasharray="10 3 2 3"/>
<polygon points="943.0,936.0 940.5,919.0 945.5,919.0" fill="#161616" stroke="none"/>
<text x="952.5" y="934.4" font-family="Liberation Sans" font-size="24" font-style="italic" fill="#161616" stroke="#161616" stroke-width="0.5" textLength="12.5" lengthAdjust="spacingAndGlyphs" text-anchor="start" >G</text>
<polyline points="799.3,988.2 828.7,919.0 924.0,918.3" stroke-width="1.4" fill="none"/>
<g transform="translate(837.8,911.0) scale(0.78,1)"><text x="0" y="0" font-family="Liberation Sans" font-size="24" font-style="italic" fill="#161616" stroke="#161616" stroke-width="0.5" textLength="80.8" lengthAdjust="spacing" text-anchor="start" >Ребро</text></g>
<g transform="translate(830.5,938.8) scale(0.78,1)"><text x="0" y="0" font-family="Liberation Sans" font-size="24" font-style="italic" fill="#161616" stroke="#161616" stroke-width="0.5" textLength="142.3" lengthAdjust="spacing" text-anchor="start" >опрокиды-</text></g>
<g transform="translate(829.0,959.3) scale(0.78,1)"><text x="0" y="0" font-family="Liberation Sans" font-size="24" font-style="italic" fill="#161616" stroke="#161616" stroke-width="0.5" textLength="82.1" lengthAdjust="spacing" text-anchor="start" >вания</text></g></g></svg>
</body></html>
